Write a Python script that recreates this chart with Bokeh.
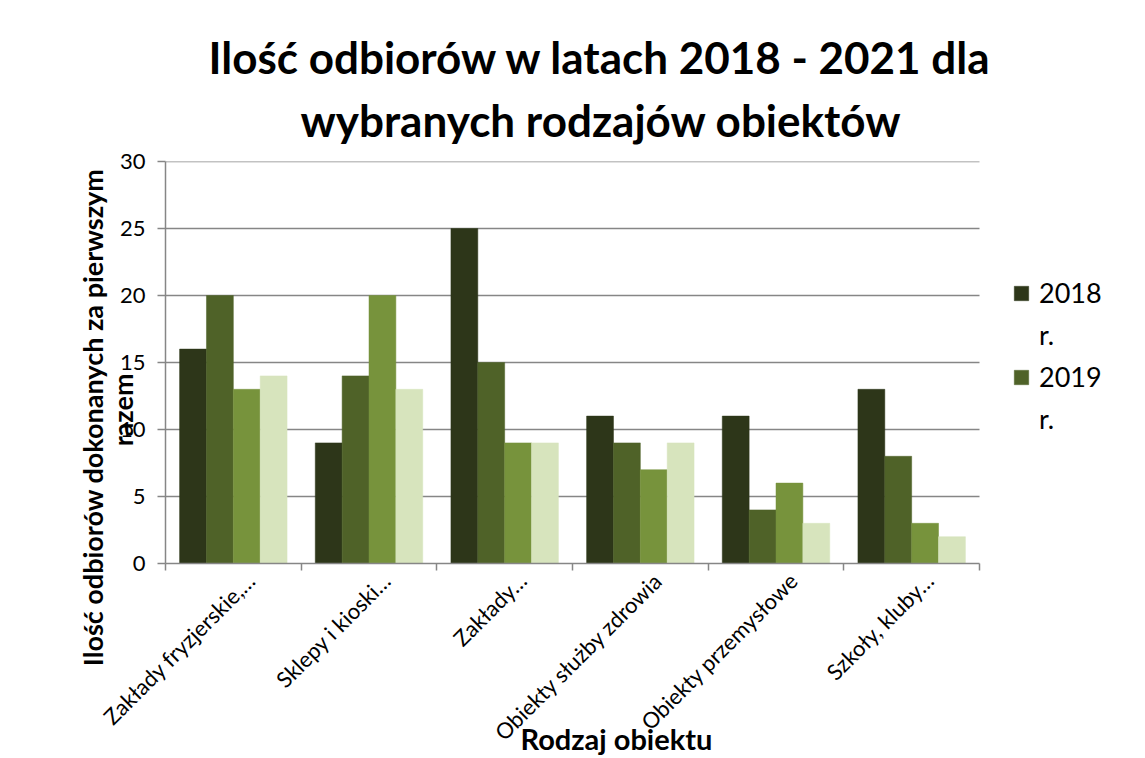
import numpy as np
from math import pi
from bokeh.plotting import figure
from bokeh.models import ColumnDataSource, Range1d, FixedTicker, Legend, LegendItem, Title
from bokeh.transform import dodge
from bokeh.embed import file_html
from bokeh.resources import INLINE

# ---- data ----
categories = ["Zakłady fryzjerskie,…", "Sklepy i kioski…", "Zakłady…",
              "Obiekty służby zdrowia", "Obiekty przemysłowe", "Szkoły, kluby…"]
series_names = ["2018 r.", "2019 r.", "2020 r.", "2021 r."]
v2018 = [16, 9, 25, 11, 11, 13]
v2019 = [20, 14, 15, 9, 4, 8]
v2020 = [13, 20, 9, 7, 6, 3]
v2021 = [14, 13, 9, 9, 3, 2]
y_ticks = [0, 5, 10, 15, 20, 25, 30]

colors = ["#2d3619", "#4f6228", "#77933c", "#d7e4bd"]
GRID = "#868686"
FONT = "Lato"

W, H = 1145, 758
LEFT, RIGHT, TOP, BOTTOM = 165, 5, 161, 194
PLOT_W = 814                      # width of the category area in px
n = len(categories)
frame_w = W - LEFT - RIGHT
x_end = n * frame_w / PLOT_W      # frame extends right to hold the legend

xc = [i + 0.5 for i in range(n)]
src = ColumnDataSource(dict(xc=xc, v2018=v2018, v2019=v2019, v2020=v2020, v2021=v2021))

p = figure(width=W, height=H, x_range=Range1d(0, x_end), y_range=Range1d(0, 30),
           output_backend="svg", toolbar_location=None, title=None,
           min_border_left=LEFT, min_border_right=RIGHT, min_border_top=TOP,
           min_border_bottom=BOTTOM)
p.outline_line_color = None
p.background_fill_color = "white"
p.xgrid.visible = False
p.ygrid.visible = False

# horizontal gridlines over the category area only
gy = y_ticks[1:]
p.segment(x0=[0] * len(gy), x1=[n] * len(gy), y0=gy, y1=gy,
          line_color=GRID, line_width=1.5)

bw = 0.198
cols = ["v2018", "v2019", "v2020", "v2021"]
rends = []
for k, (c, col) in enumerate(zip(cols, colors)):
    r = p.vbar(x=dodge("xc", (k - 1.5) * bw), top=c, width=bw, source=src,
               fill_color=col, line_color=col, line_width=0.5)
    rends.append(r)

# x axis: category labels shifted slightly right like the original
shift = 0.13
lab_pos = [x + shift for x in xc]
xa = p.xaxis[0]
xa.bounds = (0, n)
xa.ticker = FixedTicker(ticks=lab_pos, minor_ticks=list(range(n + 1)))
xa.major_label_overrides = {x: c for x, c in zip(lab_pos, categories)}
xa.major_tick_out = 0
xa.major_tick_in = 0
xa.minor_tick_out = 7
xa.minor_tick_in = 0
xa.minor_tick_line_color = GRID
xa.minor_tick_line_width = 1.5
xa.axis_line_color = GRID
xa.axis_line_width = 1.5
xa.major_label_orientation = pi / 4
xa.major_label_text_font = FONT
xa.major_label_text_font_size = "22px"
xa.major_label_text_color = "black"
xa.major_label_standoff = 6

# y axis
ya = p.yaxis[0]
ya.ticker = FixedTicker(ticks=y_ticks)
ya.major_tick_out = 8
ya.major_tick_in = 0
ya.minor_tick_out = 0
ya.minor_tick_in = 0
ya.major_tick_line_color = GRID
ya.major_tick_line_width = 1.5
ya.axis_line_color = GRID
ya.axis_line_width = 1.5
ya.major_label_text_font = FONT
ya.major_label_text_font_size = "22px"
ya.major_label_text_color = "black"
ya.major_label_standoff = 12

# legend (only first two entries visible, label wrapped as in original)
dummy = p.vbar(x=[], top=[], width=0.1, fill_alpha=0, line_alpha=0)
items = [LegendItem(label="2018", renderers=[rends[0]]),
         LegendItem(label="r.", renderers=[dummy]),
         LegendItem(label="2019", renderers=[rends[1]]),
         LegendItem(label="r.", renderers=[dummy])]
leg = Legend(items=items, location=(847, 128), orientation="vertical",
             border_line_color=None, background_fill_alpha=0,
             glyph_width=18, glyph_height=18, label_standoff=9,
             label_text_font=FONT, label_text_font_size="27px", label_text_color="black",
             spacing=9, padding=0, margin=0)
p.add_layout(leg, "center")

def ttl(text, size, align, offset, standoff, valign="bottom"):
    return Title(text=text, align=align, offset=offset, standoff=standoff,
                 vertical_align=valign, text_color="black",
                 text_font=FONT, text_font_size=size, text_font_style="bold")

# chart title (two lines)
p.add_layout(ttl("wybranych rodzajów obiektów", "44px", "left", 135, 32), "above")
p.add_layout(ttl("Ilość odbiorów w latach 2018 - 2021 dla", "44px", "left", 43, -15), "above")

# axis titles
p.add_layout(ttl("Rodzaj obiektu", "29px", "left", 355, -76, "top"), "below")
p.add_layout(ttl("razem", "27px", "right", 212, -45), "left")
p.add_layout(ttl("Ilość odbiorów dokonanych za pierwszym", "27px", "right", 7, 15), "left")

open("out.html", "w").write(file_html(p, INLINE))
